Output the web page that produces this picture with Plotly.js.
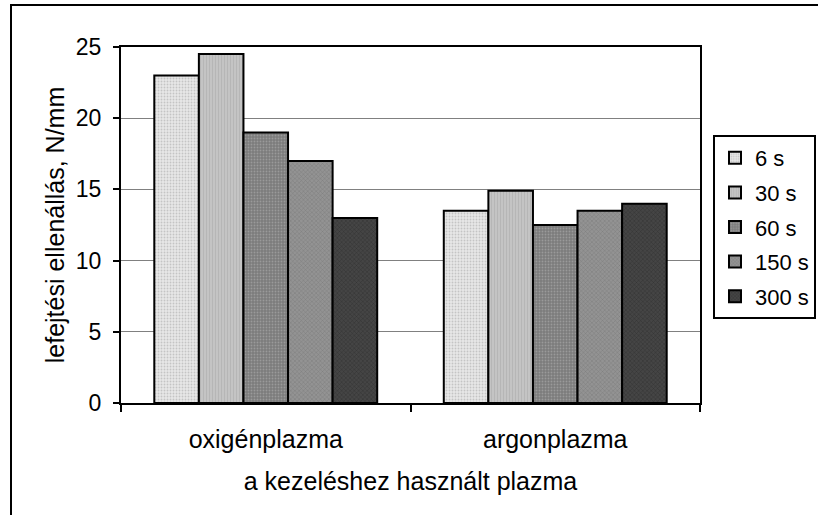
<!DOCTYPE html>
<html>
<head>
<meta charset="utf-8">
<script src="https://cdn.plot.ly/plotly-3.0.1.min.js"></script>
<style>
html,body{margin:0;padding:0;background:#fff;}
#chart{width:818px;height:515px;}
</style>
</head>
<body>
<div id="chart"></div>
<script>
const categories = ["oxigénplazma", "argonplazma"];
const seriesNames = ["6 s", "30 s", "60 s", "150 s", "300 s"];
const s6 = [23, 13.5];
const s30 = [24.5, 14.9];
const s60 = [19, 12.5];
const s150 = [17, 13.5];
const s300 = [13, 14];
const yTicks = [0, 5, 10, 15, 20, 25];

const seriesValues = [s6, s30, s60, s150, s300];
const styles = [
  {bg: "#e8e8e8", fg: "#c4c4c4", shape: ".", size: 3, sol: 0.3},
  {bg: "#c4c4c4", fg: "#b2b2b2", shape: "|", size: 3, sol: 0.25},
  {bg: "#7c7c7c", fg: "#9a9a9a", shape: ".", size: 3, sol: 0.3},
  {bg: "#939393", fg: "#777777", shape: "x", size: 3, sol: 0.25},
  {bg: "#454545", fg: "#2c2c2c", shape: "x", size: 3, sol: 0.25}
];
const FONT = "Liberation Sans, Arial, sans-serif";

const traces = seriesNames.map((name, i) => ({
  type: "bar",
  name: name,
  legendgroup: "g" + i,
  x: categories,
  y: seriesValues[i],
  marker: {
    color: styles[i].bg,
    line: {color: "#000", width: 2},
    pattern: {shape: styles[i].shape, fgcolor: styles[i].fg, bgcolor: styles[i].bg,
              size: styles[i].size, solidity: styles[i].sol, fillmode: "replace"}
  },
  hoverinfo: "skip"
}));

const L = 121, R = 700, T = 47, B = 403, W = 818, H = 515;
const px = v => (v - L) / (R - L);
const py = v => (B - v) / (B - T);

const layout = {
  width: W, height: H,
  margin: {l: L, r: W - R, t: T, b: H - B, pad: 0, autoexpand: false},
  paper_bgcolor: "#fff",
  plot_bgcolor: "#fff",
  barmode: "group",
  bargap: 0.23,
  bargroupgap: 0,
  font: {family: FONT, color: "#000", size: 24},
  showlegend: true,
  legend: {
    x: px(816), y: py(135), xanchor: "right", yanchor: "top",
    bordercolor: "#000", borderwidth: 2, bgcolor: "#fff",
    font: {family: FONT, size: 22, color: "#000"},
    traceorder: "grouped", tracegroupgap: 3, itemwidth: 30
  },
  xaxis: {
    type: "category",
    showgrid: false,
    showline: true, linecolor: "#000", linewidth: 2, mirror: true,
    ticks: "outside", tickson: "boundaries", ticklen: 7, tickwidth: 2, tickcolor: "#000",
    tickfont: {family: FONT, size: 25},
    ticklabelstandoff: 13,
    title: {text: "a kezeléshez használt plazma", font: {family: FONT, size: 25}, standoff: 20},
    automargin: false,
    fixedrange: true
  },
  yaxis: {
    range: [0, 25],
    tickvals: yTicks,
    ticktext: yTicks.map(String),
    showgrid: true, gridcolor: "#808080", gridwidth: 1,
    zeroline: false,
    showline: true, linecolor: "#000", linewidth: 2, mirror: true,
    ticks: "outside", ticklen: 6, tickwidth: 2, tickcolor: "#000",
    tickfont: {family: FONT, size: 23},
    ticklabelstandoff: 7,
    title: {text: "lefejtési ellenállás, N/mm", font: {family: FONT, size: 25}, standoff: 4},
    automargin: false,
    fixedrange: true
  },
  shapes: [{
    type: "rect", xref: "paper", yref: "paper",
    x0: px(11), x1: px(900), y0: py(5), y1: py(600),
    line: {color: "#000", width: 2}, fillcolor: "rgba(0,0,0,0)", layer: "below"
  }]
};

Plotly.newPlot("chart", traces, layout, {displayModeBar: false, staticPlot: true});
</script>
</body>
</html>
